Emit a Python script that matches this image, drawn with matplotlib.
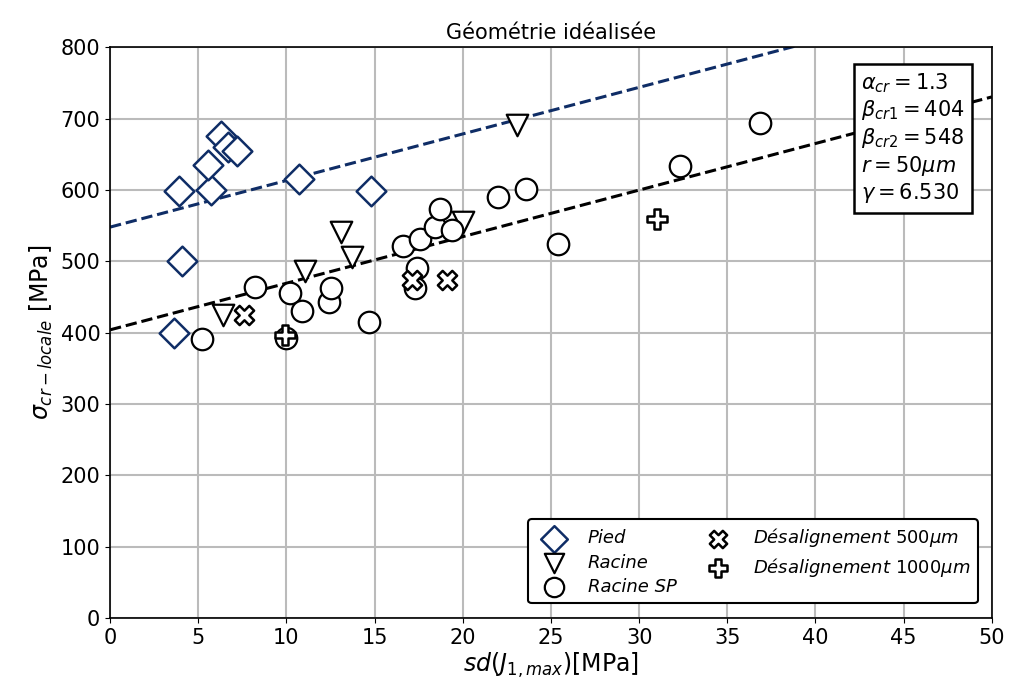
import numpy as np
import matplotlib
matplotlib.use("Agg")
import matplotlib.pyplot as plt

# Data
pied_x = [3.6, 4.1, 3.9, 5.7, 5.55, 6.3, 6.7, 7.2, 10.7, 14.8]
pied_y = [400, 500, 598, 600, 635, 676, 660, 655, 616, 598]

racine_x = [6.4, 11.05, 13.1, 13.7, 20.0, 23.05]
racine_y = [425, 487, 541, 506, 555, 691]

racine_sp_x = [5.2, 8.2, 10.0, 10.2, 10.9, 12.4, 12.5, 14.7, 16.6, 17.4, 17.3, 17.6,
               18.4, 18.7, 19.4, 22.0, 23.6, 25.4, 32.3, 36.85]
racine_sp_y = [391, 464, 392, 455, 431, 443, 463, 415, 522, 490, 462, 532,
               548, 573, 544, 590, 602, 525, 633, 694]

desal500_x = [7.6, 17.1, 19.1]
desal500_y = [425, 474, 474]

desal1000_x = [9.9, 31.0]
desal1000_y = [397, 559]

alpha_cr = 1.3
beta_cr1 = 404
beta_cr2 = 548
gamma = 6.530

blue = "#0f2d66"

fig = plt.figure(figsize=(10.1, 6.96), dpi=100)
ax = fig.add_axes([0.109, 0.112, 0.873, 0.820])

xs = np.array([0, 50])
ax.plot(xs, beta_cr2 + gamma * xs, "--", color=blue, lw=2.2, zorder=2)
ax.plot(xs, beta_cr1 + gamma * xs, "--", color="black", lw=2.2, zorder=2)

ms = 240
ax.scatter(pied_x, pied_y, marker="D", s=ms * 0.95, facecolors="white", edgecolors=blue,
           linewidths=1.8, label="Pied", zorder=3)
ax.scatter(racine_x, racine_y, marker="v", s=ms, facecolors="white", edgecolors="black",
           linewidths=1.6, label="Racine", zorder=3)
ax.scatter(racine_sp_x, racine_sp_y, marker="o", s=ms, facecolors="white", edgecolors="black",
           linewidths=1.6, label="Racine SP", zorder=3)
ax.scatter(desal500_x, desal500_y, marker="X", s=ms * 0.8, facecolors="white", edgecolors="black",
           linewidths=1.8, label=r"Désalignement $500\mu m$", zorder=3)
ax.scatter(desal1000_x, desal1000_y, marker="P", s=ms * 0.8, facecolors="white", edgecolors="black",
           linewidths=1.8, label=r"Désalignement $1000\mu m$", zorder=3)

ax.set_xlim(0, 50)
ax.set_ylim(0, 800)
ax.set_xticks(np.arange(0, 51, 5))
ax.set_yticks(np.arange(0, 801, 100))
ax.tick_params(labelsize=15)
ax.grid(True, color="#bbbbbb", lw=1.5)
ax.set_axisbelow(True)
for sp in ax.spines.values():
    sp.set_linewidth(1.2)

ax.set_title("Géométrie idéalisée", fontsize=15)
ax.set_xlabel(r"$sd(J_{1,max})$[MPa]", fontsize=17, labelpad=2)
ax.set_ylabel(r"$\sigma_{cr-locale}$ [MPa]", fontsize=17, labelpad=4)

txt = "\n".join([
    r"$\alpha_{cr} = %.1f$" % alpha_cr,
    r"$\beta_{cr1} = %d$" % beta_cr1,
    r"$\beta_{cr2} = %d$" % beta_cr2,
    r"$r = 50\mu m$",
    r"$\gamma = %.3f$" % gamma,
])
ax.text(0.969, 0.958, txt, transform=ax.transAxes, ha="right", va="top", fontsize=15,
        multialignment="left", linespacing=1.2,
        bbox=dict(boxstyle="square,pad=0.35", facecolor="white", edgecolor="black", lw=1.8),
        zorder=5)

leg = ax.legend(loc="lower right", ncol=2, prop={"style": "italic", "size": 13},
                markerscale=0.9, frameon=True, framealpha=1, edgecolor="black", borderpad=0.4,
                handletextpad=0.9, columnspacing=1.3, labelspacing=0.35,
                bbox_to_anchor=(0.994, 0.01))
leg.get_frame().set_linewidth(1.5)

fig.savefig("out.png", dpi=100)
